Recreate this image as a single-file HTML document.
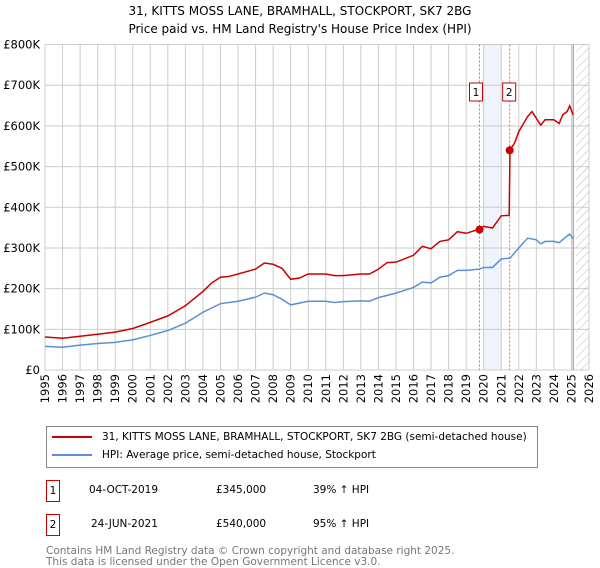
<!DOCTYPE html>
<html><head><meta charset="utf-8"><style>
body{margin:0;width:600px;height:560px;background:#fff;font-family:"DejaVu Sans","Liberation Sans",sans-serif;overflow:hidden;position:relative}
.t{position:absolute;color:#000}
</style></head><body>
<div class="t" style="left:0;width:600px;top:2px;text-align:center;font-size:12px;line-height:18px">31, KITTS MOSS LANE, BRAMHALL, STOCKPORT, SK7 2BG<br>Price paid vs. HM Land Registry's House Price Index (HPI)</div>
<svg id="c" width="600" height="420" style="position:absolute;left:0;top:0;font-family:'DejaVu Sans',sans-serif"></svg>
<div style="position:absolute;left:46px;top:426px;width:490px;height:40px;border:1px solid #888;font-size:10.5px">
<div style="position:absolute;left:5px;top:4px;white-space:nowrap"><span style="display:inline-block;width:40px;height:2px;background:#c00;vertical-align:middle;margin-right:10px"></span>31, KITTS MOSS LANE, BRAMHALL, STOCKPORT, SK7 2BG (semi-detached house)</div>
<div style="position:absolute;left:5px;top:22px;white-space:nowrap"><span style="display:inline-block;width:40px;height:2px;background:#5b8fd4;vertical-align:middle;margin-right:10px"></span>HPI: Average price, semi-detached house, Stockport</div>
</div>
<div style="position:absolute;left:0;top:480px;font-size:10.5px;width:600px">
<span style="position:absolute;left:46px;top:0;border:1px solid #c00;width:12px;height:20px;line-height:20px;text-align:center">1</span>
<span style="position:absolute;left:89px;top:4px">04-OCT-2019</span><span style="position:absolute;left:216px;top:4px">£345,000</span><span style="position:absolute;left:313px;top:4px">39% ↑ HPI</span></div>
<div style="position:absolute;left:0;top:514px;font-size:10.5px;width:600px">
<span style="position:absolute;left:46px;top:0;border:1px solid #c00;width:12px;height:20px;line-height:20px;text-align:center">2</span>
<span style="position:absolute;left:91px;top:4px">24-JUN-2021</span><span style="position:absolute;left:216px;top:4px">£540,000</span><span style="position:absolute;left:313px;top:4px">95% ↑ HPI</span></div>
<div style="position:absolute;left:46px;top:546px;font-size:10.5px;line-height:11px;color:#777;white-space:nowrap">Contains HM Land Registry data © Crown copyright and database right 2025.<br>This data is licensed under the Open Government Licence v3.0.</div>
<script>
const yTicks=[0,100,200,300,400,500,600,700,800];
const yTickLabels=["£0","£100K","£200K","£300K","£400K","£500K","£600K","£700K","£800K"];
const years=[1995,1996,1997,1998,1999,2000,2001,2002,2003,2004,2005,2006,2007,2008,2009,2010,2011,2012,2013,2014,2015,2016,2017,2018,2019,2020,2021,2022,2023,2024,2025,2026];
const redX=[1995,1996,1997,1998,1999,2000,2001,2002,2003,2004,2004.5,2005,2005.5,2006,2007,2007.5,2008,2008.5,2009,2009.5,2010,2011,2011.5,2012,2013,2013.5,2014,2014.5,2015,2016,2016.5,2017,2017.5,2018,2018.5,2019,2019.75,2020,2020.5,2021,2021.45,2021.5,2021.75,2022,2022.5,2022.75,2023.25,2023.5,2024,2024.3,2024.5,2024.75,2024.9,2025.1];
const redY=[81,78,83,88,93,102,117,133,158,193,214,228,230,236,248,263,260,250,223,226,236,236,232,232,236,236,248,264,265,282,304,298,316,320,340,336,346,353,349,379,380,541,557,586,623,635,602,615,615,606,627,635,649,627];
const blueX=[1995,1996,1997,1998,1999,2000,2001,2002,2003,2004,2005,2006,2007,2007.5,2008,2008.5,2009,2010,2011,2011.5,2012,2013,2013.5,2014,2015,2016,2016.5,2017,2017.5,2018,2018.5,2019,2019.75,2020,2020.5,2021,2021.5,2022,2022.5,2023,2023.25,2023.5,2024,2024.3,2024.6,2024.9,2025.1];
const blueY=[58,56,61,65,68,74,85,97,115,142,163,169,179,189,185,174,160,169,169,166,168,170,169,178,189,203,216,214,228,232,245,245,248,252,252,273,275,300,324,320,310,316,316,313,324,334,322];
const saleX=[2019.76,2021.48];const saleY=[345,540];const saleLabels=["1","2"];
const X0=45,X1=589,Y0=370,Y1=44.5;
const xs=v=>X0+(v-1995)/31*(X1-X0);
const ys=v=>Y0-v/800*(Y0-Y1);
const svg=document.getElementById('c');const NS='http://www.w3.org/2000/svg';
function mk(t,a,p){const e=document.createElementNS(NS,t);for(const k in a)e.setAttribute(k,a[k]);(p||svg).appendChild(e);return e;}
const defs=mk('defs',{});const pat=mk('pattern',{id:'h',width:6,height:6,patternUnits:'userSpaceOnUse',patternTransform:'rotate(45)'},defs);
mk('line',{x1:0,y1:0,x2:0,y2:6,stroke:'#bbb','stroke-width':1},pat);
const band=mk('rect',{x:xs(2020),y:Y1,width:xs(2021)-xs(2020),height:Y0-Y1,fill:'#eef3fc'});


years.forEach(y=>{const l=mk('line',{x1:xs(y),x2:xs(y),y1:Y1,y2:Y0,stroke:'#ccc'});


const t=mk('text',{x:0,y:0,transform:`translate(${xs(y)+4},${Y0+4}) rotate(-90)`,'text-anchor':'end','font-size':11.5,fill:'#000'});t.textContent=y;

});
yTicks.forEach((v,i)=>{const l=mk('line',{x1:X0,x2:X1,y1:ys(v),y2:ys(v),stroke:'#ccc'});


const t=mk('text',{x:X0-5,y:ys(v)+4,'text-anchor':'end','font-size':11.5});t.textContent=yTickLabels[i];

});
const hat=mk('rect',{x:xs(2025.25),y:Y1,width:X1-xs(2025.25),height:Y0-Y1,fill:'url(#h)'});


mk('line',{x1:xs(2025.1),x2:xs(2025.1),y1:Y1,y2:Y0,stroke:'#888'});
saleX.forEach(x=>{const l=mk('line',{x1:xs(x),x2:xs(x),y1:Y1,y2:Y0,stroke:'#e66','stroke-dasharray':'2,2'});

});
const pb=mk('polyline',{points:blueX.map((x,i)=>xs(x)+','+ys(blueY[i])).join(' '),fill:'none',stroke:'#5b8fd4','stroke-width':1.5});


const pr=mk('polyline',{points:redX.map((x,i)=>xs(x)+','+ys(redY[i])).join(' '),fill:'none',stroke:'#c00','stroke-width':1.5});


saleX.forEach((x,i)=>{const c=mk('circle',{cx:xs(x),cy:ys(saleY[i]),r:4,fill:'#c00'});


const r=mk('rect',{x:(i?xs(x)-7:xs(x)-10),y:83,width:13,height:18,fill:'#fff',stroke:'#c00'});


const t=mk('text',{x:(i?xs(x)-0.5:xs(x)-3.5),y:96,'text-anchor':'middle','font-size':10.5});t.textContent=saleLabels[i];

});
</script>
</body></html>
